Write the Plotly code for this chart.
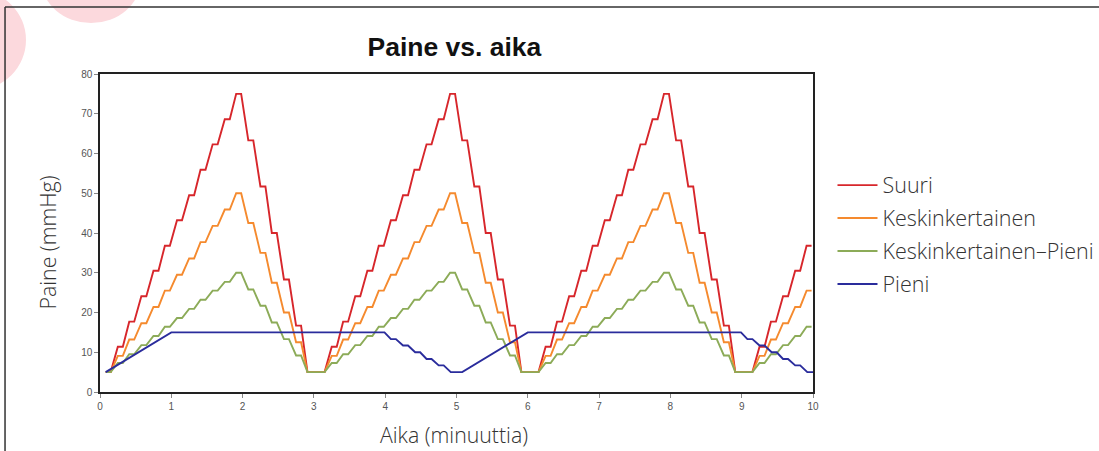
import plotly.graph_objects as go

# aika-askeleet (min) yhden jakson sisällä, jakson alusta
CYCLE_STARTS = [0.08, 3.08, 6.08, 9.08]
STEP_OFFSETS = [0.0, 0.17, 0.33, 0.5, 0.67, 0.83, 1.0, 1.17, 1.33, 1.5, 1.67, 1.83,
                2.0, 2.17, 2.33, 2.5, 2.67, 2.83]
HOLD = 0.07

# paineen tasot (mmHg) jakson askelilla
SUURI = [5, 11.4, 17.7, 24.1, 30.5, 36.8, 43.2, 49.5, 55.9, 62.3, 68.6, 75,
         63.3, 51.7, 40, 28.3, 16.7, 5]
KESKI = [5, 9.1, 13.2, 17.3, 21.4, 25.5, 29.5, 33.6, 37.7, 41.8, 45.9, 50,
         42.5, 35, 27.5, 20, 12.5, 5]
KESKI_PIENI = [5, 7.3, 9.5, 11.8, 14.1, 16.4, 18.6, 20.9, 23.2, 25.5, 27.7, 30,
               25.8, 21.7, 17.5, 13.3, 9.2, 5]

PIENI_X = [0.08, 1.0, 3.99, 4.08, 4.15, 4.25, 4.32, 4.42, 4.49, 4.58, 4.65, 4.75, 4.82, 4.92,
           5.08, 6.0, 8.99, 9.08, 9.15, 9.25, 9.32, 9.42, 9.49, 9.58, 9.65, 9.75, 9.82, 9.92, 10.0]
PIENI_Y = [5, 15, 15, 13.3, 13.3, 11.7, 11.7, 10, 10, 8.3, 8.3, 6.7, 6.7, 5,
           5, 15, 15, 13.3, 13.3, 11.7, 11.7, 10, 10, 8.3, 8.3, 6.7, 6.7, 5, 5]

NAMES = ["Suuri", "Keskinkertainen", "Keskinkertainen\u2013Pieni", "Pieni"]
COLORS = ["#d7262b", "#f58a2e", "#8cab58", "#2a2c9c"]
TEXT_FONT = "Open Sans, DejaVu Sans, sans-serif"


def staircase(levels):
    xs, ys = [], []
    for start in CYCLE_STARTS:
        for off, lvl in zip(STEP_OFFSETS, levels):
            t = start + off
            if t > 10:
                break
            xs += [t, min(t + HOLD, 10)]
            ys += [lvl, lvl]
    return xs, ys


fig = go.Figure()
for i, levels in enumerate([SUURI, KESKI, KESKI_PIENI]):
    xs, ys = staircase(levels)
    fig.add_trace(go.Scatter(x=xs, y=ys, mode="lines", name=NAMES[i], legendgroup=NAMES[i],
                             line=dict(color=COLORS[i], width=1.9)))
fig.add_trace(go.Scatter(x=PIENI_X, y=PIENI_Y, mode="lines", name=NAMES[3], legendgroup=NAMES[3],
                         line=dict(color=COLORS[3], width=1.9)))

# taustan koristeympyrät ja kehys
fig.add_shape(type="circle", xref="paper", yref="paper",
              x0=-0.244, x1=-0.1038, y0=0.950, y1=1.264,
              fillcolor="#fcd9dd", line_width=0, layer="below")
fig.add_shape(type="circle", xref="paper", yref="paper",
              x0=-0.0827, x1=0.0575, y0=1.160, y1=1.437,
              fillcolor="#fcd9dd", line_width=0, layer="below")
fig.add_shape(type="line", xref="paper", yref="paper",
              x0=-0.1332, x1=1.41, y0=1.2107, y1=1.2107,
              line=dict(color="#333333", width=1.5))
fig.add_shape(type="line", xref="paper", yref="paper",
              x0=-0.1332, x1=-0.1332, y0=1.2107, y1=-0.2,
              line=dict(color="#333333", width=1.5))

fig.update_layout(
    width=1099, height=451,
    margin=dict(l=100, r=286, t=74, b=59),
    paper_bgcolor="white", plot_bgcolor="white",
    font=dict(family=TEXT_FONT, color="#333333"),
    title=dict(text="<b>Paine vs. aika</b>", x=0.4135, xanchor="center",
               y=0.896, yanchor="middle",
               font=dict(family="Liberation Sans, Arial, sans-serif", size=26.5, color="#111111")),
    showlegend=True,
    legend=dict(xref="container", yref="container", x=0.7575, y=0.635,
                xanchor="left", yanchor="top", itemwidth=40,
                font=dict(size=21.5, weight=300, color="#333333"), tracegroupgap=2,
                bgcolor="rgba(0,0,0,0)"),
    annotations=[
        dict(text="Aika (minuuttia)", xref="paper", yref="paper", x=0.497, y=-0.135,
             xanchor="center", yanchor="middle", showarrow=False,
             font=dict(size=21.3, weight=300, color="#333333")),
        dict(text="Paine (mmHg)", xref="paper", yref="paper", x=-0.073, y=0.47,
             xanchor="center", yanchor="middle", showarrow=False, textangle=-90,
             font=dict(size=21.3, weight=300, color="#333333")),
    ],
)
fig.update_xaxes(range=[0, 10], dtick=1, showgrid=False, zeroline=False,
                 showline=True, linecolor="#222222", linewidth=1.5, mirror=True,
                 ticks="outside", ticklen=4, tickcolor="#888888",
                 tickfont=dict(family="Liberation Sans, Arial, sans-serif", size=10, color="#555555"))
fig.update_yaxes(range=[0, 80], dtick=10, showgrid=False, zeroline=False,
                 showline=True, linecolor="#222222", linewidth=1.5, mirror=True,
                 ticks="outside", ticklen=4, tickcolor="#888888",
                 tickfont=dict(family="Liberation Sans, Arial, sans-serif", size=10, color="#555555"))

fig.write_html("out.html", config={"displayModeBar": False},
               post_script="document.body.style.margin='0';")
